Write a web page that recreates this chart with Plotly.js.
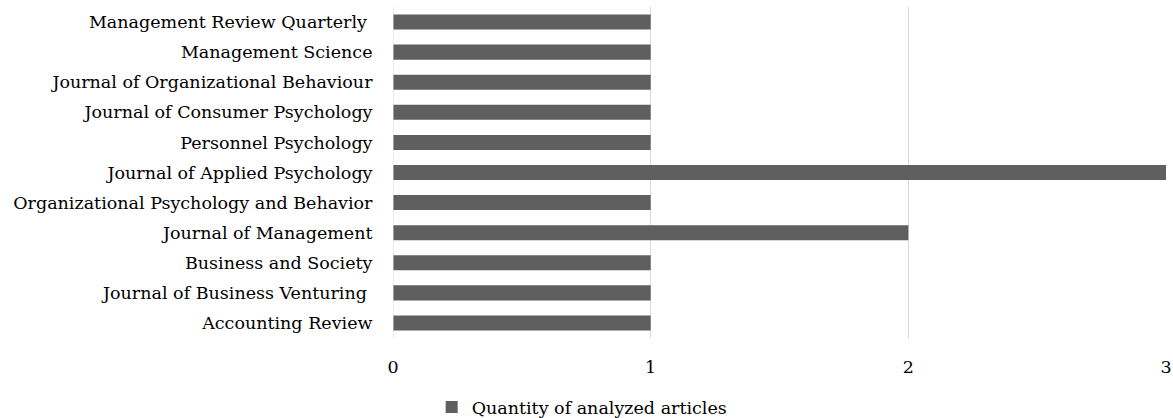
<!DOCTYPE html>
<html><head><meta charset="utf-8">
<script src="https://cdn.plot.ly/plotly-3.0.1.min.js"></script>
<style>html,body{margin:0;padding:0;background:#fff}#chart{width:1173px;height:418px}</style>
</head><body><div id="chart"></div>
<script>
const categories = [
  "Accounting Review",
  "Journal of Business Venturing ",
  "Business and Society",
  "Journal of Management",
  "Organizational Psychology and Behavior",
  "Journal of Applied Psychology",
  "Personnel Psychology",
  "Journal of Consumer Psychology",
  "Journal of Organizational Behaviour",
  "Management Science",
  "Management Review Quarterly "
];
const values = [1, 1, 1, 2, 1, 3, 1, 1, 1, 1, 1];
const seriesName = "Quantity of analyzed articles";
const xTicks = [0, 1, 2, 3];

const font = {family: "DejaVu Serif, serif", size: 17.5, color: "#000"};
Plotly.newPlot("chart", [{
  type: "bar", orientation: "h",
  y: categories, x: values, name: seriesName,
  width: 0.5,
  marker: {color: "#5f5f5f", line: {width: 0}},
  hoverinfo: "skip", showlegend: true
}], {
  width: 1173, height: 418,
  margin: {l: 393, r: 7, t: 7, b: 80},
  paper_bgcolor: "#fff", plot_bgcolor: "#fff",
  font: font,
  showlegend: true,
  legend: {orientation: "h", xref: "container", yref: "container", x: 0.368, xanchor: "left", y: 0.026, yanchor: "middle", font: font},
  xaxis: {range: [0, 3], tickvals: xTicks, ticktext: xTicks.map(String), showgrid: true, gridcolor: "#d9d9d9", gridwidth: 1,
          zeroline: false, showline: false, ticks: "outside", ticklen: 13, tickcolor: "rgba(0,0,0,0)", tickfont: font, fixedrange: true},
  yaxis: {type: "category", showgrid: false, zeroline: false, showline: false, ticks: "outside", ticklen: 16, tickcolor: "rgba(0,0,0,0)",
          tickfont: font, automargin: false, fixedrange: true},
  shapes: [{type: "line", xref: "x", yref: "paper", x0: 0, x1: 0, y0: 0, y1: 1, line: {color: "#d9d9d9", width: 1}}],
  bargap: 0.5
}, {displayModeBar: false, staticPlot: true});
</script></body></html>
